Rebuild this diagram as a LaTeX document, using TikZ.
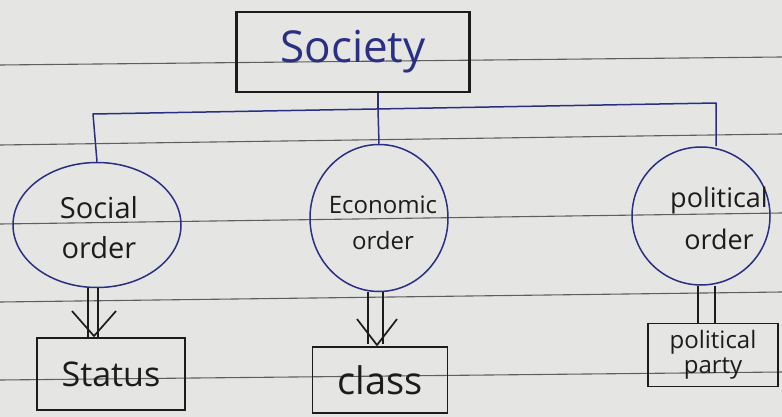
\documentclass[tikz,border=0pt]{standalone}
\usepackage{fontspec}
\setmainfont{Open Sans}
\usetikzlibrary{shapes.geometric}
\definecolor{paper}{RGB}{229,229,227}
\definecolor{ruleline}{RGB}{95,95,95}
\definecolor{ink}{RGB}{42,46,132}
\definecolor{lead}{RGB}{28,28,28}

\begin{document}
\begin{tikzpicture}[x=1pt,y=-1pt,
  ruling/.style={ruleline, line width=1.1pt},
  bluepen/.style={ink, line width=1.5pt},
  blackpen/.style={lead, line width=1.7pt},
  bubble/.style={ellipse, draw=ink, line width=1.5pt, inner sep=0pt},
  bubbletext/.style={align=center, text=lead, inner sep=0pt},
  leafbox/.style={rectangle, draw=lead, line width=1.9pt, inner sep=0pt, align=center, text=lead},
]
% sheet of ruled paper
\fill[paper] (0,0) rectangle (782,417);
\useasboundingbox (0,0) rectangle (782,417);
\foreach \yl/\yr in {65/57, 145/134, 224/213, 302/292, 380/372}
  \draw[ruling] (0,\yl) -- (782,\yr);

% root
\node[leafbox, line width=2.4pt, minimum width=233pt, minimum height=80pt,
      text=ink, font=\fontsize{44}{48}\selectfont] (society) at (353,52) {Society};

% the three orders
\node[bubble, minimum width=168pt, minimum height=125pt] (social) at (97,225) {};
\node[bubbletext, font=\fontsize{29}{40}\selectfont] (socialtext) at (99,228) {Social\\order};

\node[bubble, minimum width=138pt, minimum height=147pt] (economic) at (379,218) {};
\node[bubbletext, font=\fontsize{24}{36}\selectfont] (economictext) at (383,223) {Economic\\order};

\node[bubble, minimum width=138pt, minimum height=138pt] (political) at (701,216) {};
\node[bubbletext, font=\fontsize{27}{42}\selectfont] (politicaltext) at (719,218) {political\\order};

% outcomes
\node[leafbox, minimum width=148pt, minimum height=72pt,
      font=\fontsize{34}{40}\selectfont] (status) at (111,374) {Status};
\node[leafbox, minimum width=135pt, minimum height=66pt,
      font=\fontsize{38}{44}\selectfont] (class) at (380,380) {class};
\node[leafbox, minimum width=130pt, minimum height=63pt,
      font=\fontsize{24}{25}\selectfont] (party) at (713,355) {political\\party};

% branching from the root
\coordinate (jl) at (93,114);
\coordinate (jm) at (378,109);
\coordinate (jr) at (716,103);
\draw[bluepen] ([xshift=25pt]society.south) -- (jm);
\draw[bluepen, line join=round] (social.north) -- (jl) -- (jr) -- (political.north -| jr);
\draw[bluepen] (jm) -- (economic.north);

% double shafts to the outcomes
\draw[blackpen] ([xshift=-9pt]social.south) -- ([xshift=-23pt]status.north);
\draw[blackpen] ([xshift=1pt]social.south) -- ([xshift=-13pt]status.north);
\draw[blackpen, line join=round]
  ([xshift=-39pt,yshift=26pt]status.north) -- ([xshift=-17pt,yshift=1pt]status.north)
  -- ([xshift=5pt,yshift=26pt]status.north);

\draw[blackpen] ([xshift=-11pt]economic.south) -- ([xshift=-12pt,yshift=2pt]class.north);
\draw[blackpen] ([xshift=4pt]economic.south) -- ([xshift=3pt,yshift=2pt]class.north);
\draw[blackpen, line join=round]
  ([xshift=-23pt,yshift=27pt]class.north) -- ([xshift=-3pt,yshift=1pt]class.north)
  -- ([xshift=17pt,yshift=27pt]class.north);

\draw[blackpen] ([xshift=-3pt]political.south) -- ([xshift=-15pt]party.north);
\draw[blackpen] ([xshift=14pt]political.south) -- ([xshift=2pt]party.north);
\end{tikzpicture}
\end{document}
